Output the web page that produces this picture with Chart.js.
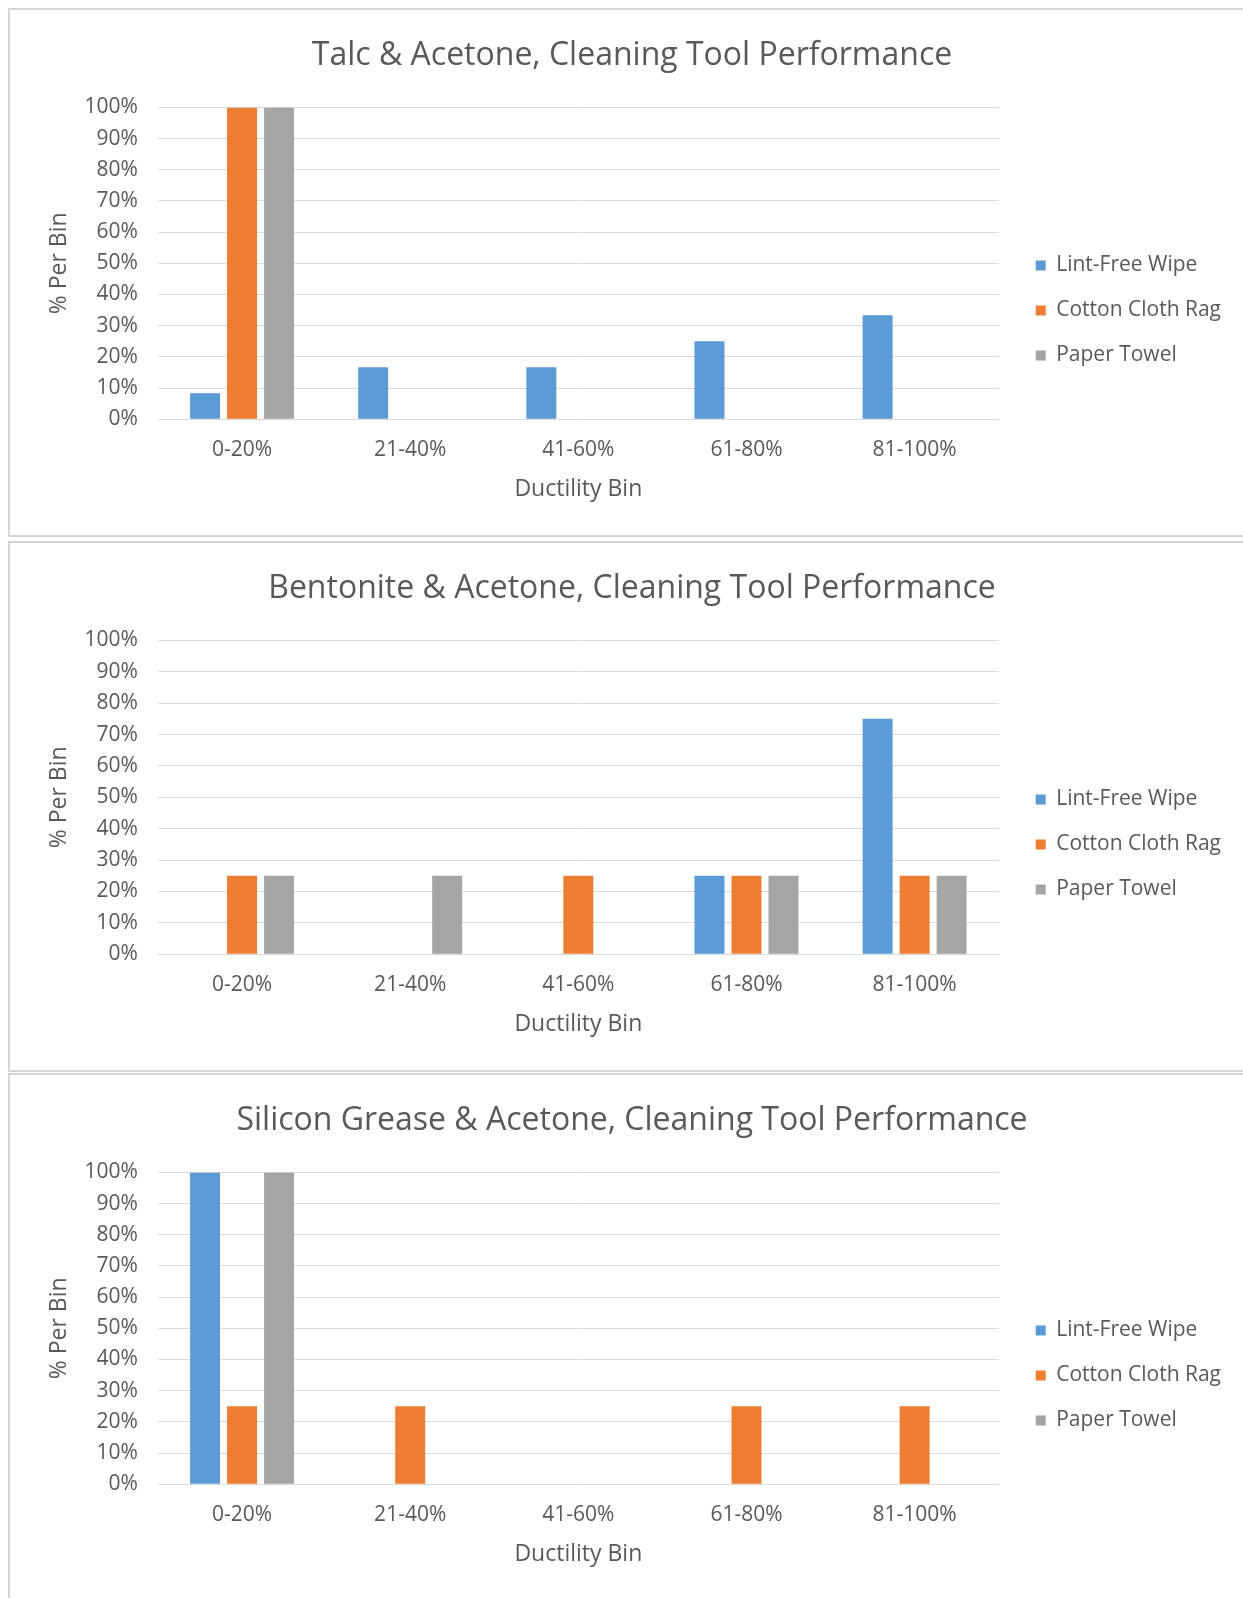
<!DOCTYPE html>
<html>
<head>
<meta charset="utf-8">
<script src="https://cdn.jsdelivr.net/npm/chart.js@4"></script>
<style>
  html, body { margin: 0; padding: 0; background: #fff; width: 1243px; height: 1598px; overflow: hidden; }
  .panel { position: absolute; left: 8px; width: 1250px; border: 2px solid #d6d6d6; background: #fff; box-sizing: border-box; }
  .panel canvas { position: absolute; left: 0; top: 0; }
</style>
</head>
<body>
<div class="panel" id="p1" style="top:8px;height:529px;"><canvas id="c1"></canvas></div>
<div class="panel" id="p2" style="top:541px;height:531px;"><canvas id="c2"></canvas></div>
<div class="panel" id="p3" style="top:1073px;height:535px;"><canvas id="c3"></canvas></div>
<script>
const categories = ['0-20%', '21-40%', '41-60%', '61-80%', '81-100%'];
const seriesNames = ['Lint-Free Wipe', 'Cotton Cloth Rag', 'Paper Towel'];
const seriesColors = ['#5B9BD5', '#ED7D31', '#A5A5A5'];

const talcLintFree = [8.33, 16.67, 16.67, 25, 33.33];
const talcCotton   = [100, 0, 0, 0, 0];
const talcPaper    = [100, 0, 0, 0, 0];

const bentLintFree = [0, 0, 0, 25, 75];
const bentCotton   = [25, 0, 25, 25, 25];
const bentPaper    = [25, 25, 0, 25, 25];

const siliLintFree = [100, 0, 0, 0, 0];
const siliCotton   = [25, 25, 0, 25, 25];
const siliPaper    = [100, 0, 0, 0, 0];

const titles = [
  'Talc & Acetone, Cleaning Tool Performance',
  'Bentonite & Acetone, Cleaning Tool Performance',
  'Silicon Grease & Acetone, Cleaning Tool Performance'
];
const xTitle = 'Ductility Bin';
const yTitle = '% Per Bin';
const yTicks = [0, 10, 20, 30, 40, 50, 60, 70, 80, 90, 100];

const FONT = "'Open Sans', sans-serif";
const TXT = '#595959';

// nudges the legend box to sit where the original places it
const legendNudge = {
  id: 'legendNudge',
  afterLayout(chart) {
    const lg = chart.legend;
    if (!lg) return;
    lg.left += 13; lg.right += 13;
    lg.top += 54; lg.bottom += 54;
  }
};

function makeChart(id, title, data, w, h) {
  const cv = document.getElementById(id);
  cv.style.width = w + 'px';
  cv.style.height = h + 'px';
  cv.width = w; cv.height = h;
  return new Chart(cv, {
    type: 'bar',
    data: {
      labels: categories,
      datasets: data.map((d, i) => ({
        label: seriesNames[i],
        data: d,
        backgroundColor: seriesColors[i],
        borderWidth: 0,
        categoryPercentage: 0.66,
        barPercentage: 0.81
      }))
    },
    plugins: [legendNudge],
    options: {
      responsive: false,
      animation: false,
      devicePixelRatio: 1,
      layout: { padding: { left: 36, right: 27, top: 0, bottom: 32 } },
      plugins: {
        title: {
          display: true,
          text: title,
          color: TXT,
          font: { family: FONT, size: 32, weight: 'normal', lineHeight: 1.2 },
          padding: { top: 27, bottom: 32 }
        },
        legend: {
          display: true,
          position: 'right',
          labels: {
            color: TXT,
            font: { family: FONT, size: 21 },
            boxWidth: 10,
            boxHeight: 10,
            padding: 24
          }
        },
        tooltip: { enabled: false }
      },
      scales: {
        x: {
          grid: { display: false, drawTicks: false },
          border: { display: false },
          ticks: { color: TXT, font: { family: FONT, size: 21, lineHeight: 1.2 }, padding: 18 },
          title: { display: true, text: xTitle, color: TXT, font: { family: FONT, size: 23, lineHeight: 1.2 }, padding: { top: -5, bottom: 0 } }
        },
        y: {
          min: 0, max: 100,
          afterBuildTicks: (s) => { s.ticks = yTicks.map(v => ({ value: v })); },
          grid: { color: '#d9d9d9', lineWidth: 1, drawTicks: false },
          border: { display: false },
          ticks: { color: TXT, font: { family: FONT, size: 21 }, padding: 20, callback: v => v + '%' },
          title: { display: true, text: yTitle, color: TXT, font: { family: FONT, size: 23, lineHeight: 1.2 }, padding: { top: 0, bottom: -9 } }
        }
      }
    }
  });
}

makeChart('c1', titles[0], [talcLintFree, talcCotton, talcPaper], 1235, 525);
makeChart('c2', titles[1], [bentLintFree, bentCotton, bentPaper], 1235, 527);
makeChart('c3', titles[2], [siliLintFree, siliCotton, siliPaper], 1235, 525);
</script>
</body>
</html>
